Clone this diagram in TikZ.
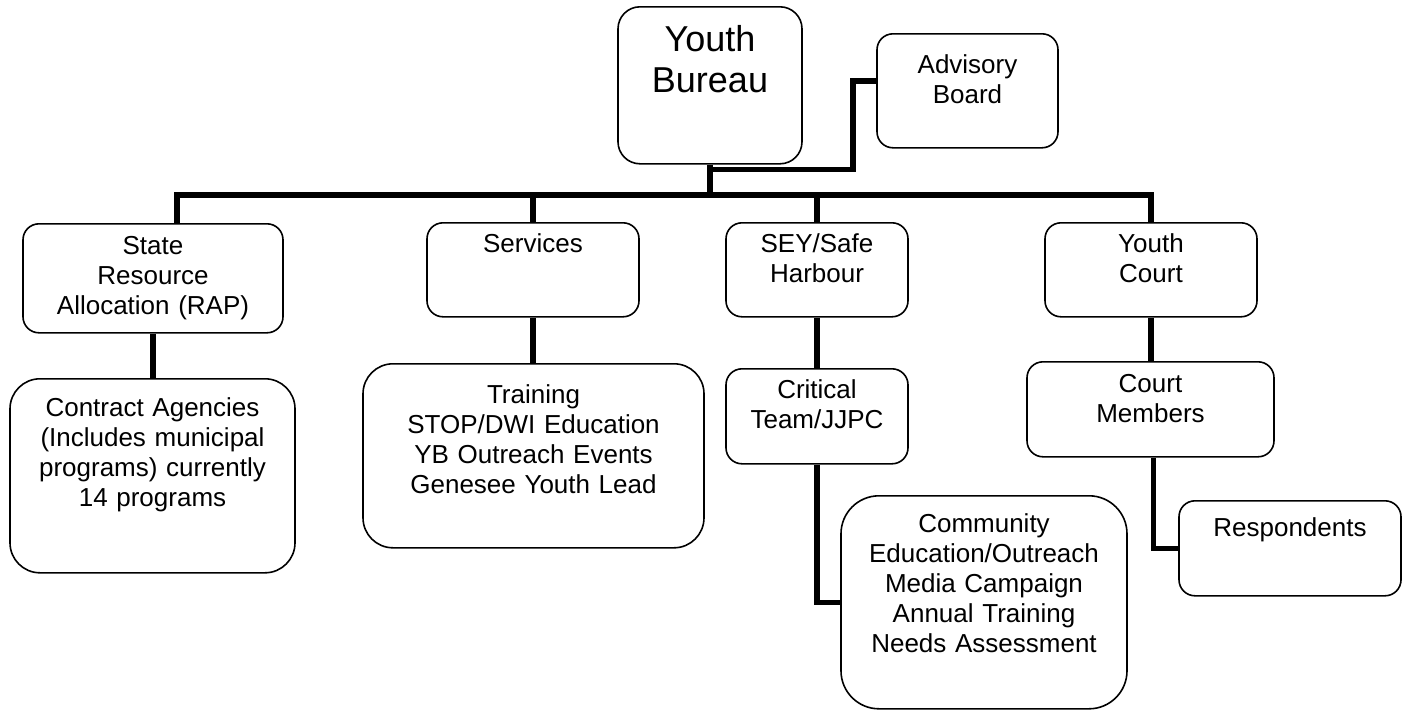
\documentclass[tikz,border=0pt]{standalone}
\usepackage{fontspec}
\setmainfont{Liberation Sans}
\usepackage{tikz}
\tikzstyle{orgbox} = [draw=black, fill=white, line width=1.6pt,
    rectangle, rounded corners=16pt, inner sep=0pt, align=center,
    anchor=north, font=\fontsize{26}{30}\selectfont]
\tikzstyle{bigbox} = [orgbox, rounded corners=30pt]
\tikzstyle{link} = [line width=5.5pt]

\begin{document}
\begin{tikzpicture}[x=1pt, y=1pt]
    \useasboundingbox (0,0) rectangle (1403,-710);
    % top level
    \node [orgbox, rounded corners=22pt, font=\fontsize{36}{41}\selectfont,
        text width=184pt, text height=45pt, text depth=112pt] (bureau) at (710,-6) {Youth\\Bureau};
    \node [orgbox, text width=181pt, text height=40pt, text depth=74pt] (advisory) at (967.5,-33) {Advisory\\Board};
    % second level
    \node [orgbox, text width=260pt, text height=31pt, text depth=78pt] (state) at (153,-223) {State\\Resource\\Allocation (RAP)};
    \node [orgbox, text width=212pt, text height=30pt, text depth=64pt] (services) at (533,-222) {Services};
    \node [orgbox, text width=182pt, text height=30pt, text depth=64pt] (sey) at (817,-222) {SEY/Safe\\Harbour};
    \node [orgbox, text width=212pt, text height=30pt, text depth=64pt] (ycourt) at (1151,-222) {Youth\\Court};
    % third level
    \node [bigbox, text width=285pt, text height=38pt, text depth=156pt] (contract) at (152.5,-378) {Contract Agencies\\(Includes municipal\\programs) currently\\14 programs};
    \node [bigbox, text width=341pt, text height=40pt, text depth=144pt] (training) at (533.5,-363) {Training\\STOP/DWI Education\\YB Outreach Events\\Genesee Youth Lead};
    \node [orgbox, text width=182pt, text height=30pt, text depth=65pt] (critical) at (817,-368) {Critical\\Team/JJPC};
    \node [orgbox, text width=247pt, text height=31pt, text depth=64pt] (members) at (1150.5,-361) {Court\\Members};
    % fourth level
    \node [bigbox, rounded corners=38pt, text width=286pt, text height=37pt, text depth=176pt] (community) at (984,-495) {Community\\Education/Outreach\\Media Campaign\\Annual Training\\Needs Assessment};
    \node [orgbox, text width=222pt, text height=36pt, text depth=59pt] (respondents) at (1290,-500) {Respondents};

    \coordinate (bar) at (710,-195);
    \draw [link] (bureau.south) -- (bureau.south |- bar);
    \draw [link] ([yshift=10pt]advisory.west) -- ++(-23pt,0) |- ([yshift=-5pt]bureau.south);
    \draw [link] ([xshift=24pt]state.north) |- (ycourt.north |- bar) -- (ycourt.north);
    \draw [link] (services.north) -- (services.north |- bar);
    \draw [link] (sey.north) -- (sey.north |- bar);

    \draw [link] (state.south) -- (state.south |- contract.north);
    \draw [link] (services.south) -- (services.south |- training.north);
    \draw [link] (sey.south) -- (critical.north);
    \draw [link] (ycourt.south) -- (ycourt.south |- members.north);
    \draw [link] (critical.south) |- (community.west);
    \draw [link] ([xshift=3pt]members.south) |- (respondents.west);
\end{tikzpicture}
\end{document}
